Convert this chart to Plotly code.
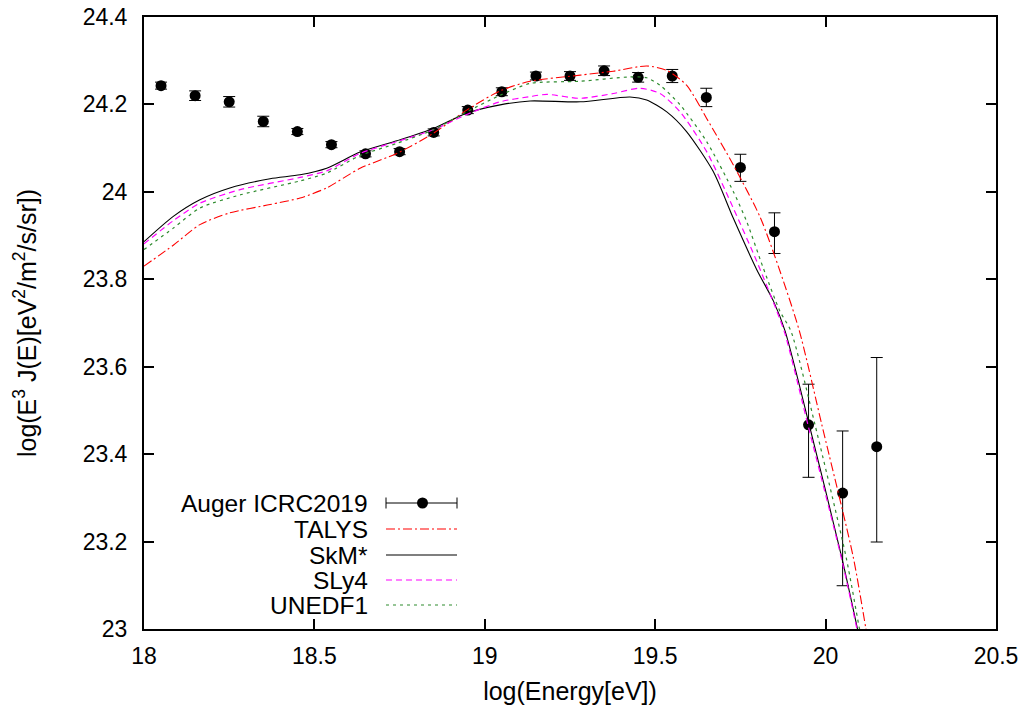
import plotly.graph_objects as go

# ---------------- data ----------------
auger_x = [18.05, 18.15, 18.25, 18.35, 18.45, 18.55, 18.65, 18.75, 18.85, 18.95, 19.05,
           19.15, 19.25, 19.35, 19.45, 19.55, 19.65, 19.75, 19.85, 19.95, 20.05, 20.15]
auger_y = [24.243, 24.220, 24.206, 24.161, 24.138, 24.108, 24.087, 24.092, 24.136, 24.187, 24.229,
           24.265, 24.265, 24.277, 24.262, 24.265, 24.216, 24.056, 23.909, 23.467, 23.311, 23.417]
auger_err_plus = [0.008, 0.011, 0.012, 0.012, 0.007, 0.007, 0.007, 0.007, 0.008, 0.008, 0.009,
                  0.009, 0.010, 0.011, 0.011, 0.015, 0.021, 0.030, 0.043, 0.093, 0.142, 0.204]
auger_err_minus = [0.008, 0.011, 0.012, 0.012, 0.007, 0.007, 0.007, 0.007, 0.008, 0.008, 0.009,
                   0.009, 0.010, 0.011, 0.011, 0.015, 0.021, 0.032, 0.050, 0.120, 0.212, 0.218]

talys_x = [18.0, 18.086, 18.164, 18.252, 18.37, 18.458, 18.536, 18.634, 18.742, 18.849, 18.947,
           19.045, 19.133, 19.28, 19.377, 19.475, 19.534, 19.592, 19.651, 19.729, 19.808, 19.866,
           19.923, 19.989, 20.081, 20.118, 20.14]
talys_y = [23.830, 23.878, 23.925, 23.952, 23.971, 23.986, 24.009, 24.054, 24.088, 24.134, 24.187,
           24.231, 24.253, 24.267, 24.276, 24.288, 24.278, 24.244, 24.168, 24.062, 23.942, 23.819,
           23.682, 23.467, 23.165, 23.002, 22.90]

skm_x = [18.0, 18.086, 18.164, 18.252, 18.37, 18.458, 18.536, 18.634, 18.742, 18.849, 18.947,
         19.045, 19.133, 19.28, 19.426, 19.475, 19.534, 19.592, 19.67, 19.729, 19.798, 19.847,
         19.881, 19.952, 20.047, 20.093, 20.12]
skm_y = [23.886, 23.944, 23.982, 24.009, 24.030, 24.039, 24.054, 24.091, 24.117, 24.145, 24.180,
         24.199, 24.208, 24.206, 24.217, 24.210, 24.183, 24.138, 24.047, 23.940, 23.822, 23.750,
         23.682, 23.467, 23.165, 23.002, 22.90]

sly4_x = [18.0, 18.086, 18.164, 18.282, 18.458, 18.536, 18.634, 18.742, 18.849, 18.947, 19.045,
          19.133, 19.182, 19.28, 19.377, 19.455, 19.514, 19.573, 19.651, 19.729, 19.798, 19.857,
          19.881, 19.952, 20.047, 20.092, 20.12]
sly4_y = [23.881, 23.934, 23.974, 24.005, 24.033, 24.048, 24.088, 24.115, 24.142, 24.177, 24.206,
          24.218, 24.223, 24.214, 24.225, 24.237, 24.225, 24.183, 24.092, 23.963, 23.841, 23.727,
          23.675, 23.455, 23.160, 23.000, 22.90]

unedf1_x = [18.0, 18.086, 18.164, 18.282, 18.458, 18.536, 18.634, 18.742, 18.849, 18.947, 19.045,
            19.133, 19.28, 19.426, 19.475, 19.514, 19.573, 19.651, 19.729, 19.768, 19.817, 19.866,
            19.898, 19.969, 20.06, 20.099, 20.125]
unedf1_y = [23.868, 23.917, 23.963, 23.993, 24.025, 24.043, 24.083, 24.111, 24.142, 24.183, 24.221,
            24.248, 24.253, 24.263, 24.261, 24.244, 24.199, 24.115, 24.001, 23.933, 23.826, 23.727,
            23.682, 23.467, 23.165, 23.002, 22.90]

x_ticks = [18, 18.5, 19, 19.5, 20, 20.5]
x_tick_labels = ["18", "18.5", "19", "19.5", "20", "20.5"]
y_ticks = [23, 23.2, 23.4, 23.6, 23.8, 24, 24.2, 24.4]
y_tick_labels = ["23", "23.2", "23.4", "23.6", "23.8", "24", "24.2", "24.4"]

legend_names = ["Auger ICRC2019", "TALYS", "SkM*", "SLy4", "UNEDF1"]

# ---------------- styles ----------------
FONT = "Liberation Sans, Arial, Helvetica, sans-serif"
FS = 23
FS_KEY = 24.5
FS_TITLE = 25
RED = "#ff0000"
MAG = "#ff00ff"
GRN = "#2e8b2e"
BLK = "#000000"
styles = {
    "TALYS": dict(color=RED, dash="9px,3px,2px,3px", width=1.1),
    "SkM*": dict(color=BLK, dash="solid", width=1.1),
    "SLy4": dict(color=MAG, dash="6px,4px", width=1.2),
    "UNEDF1": dict(color=GRN, dash="3px,4px", width=1.2),
}

fig = go.Figure()

fig.add_trace(go.Scatter(
    x=auger_x, y=auger_y, mode="markers", name=legend_names[0],
    marker=dict(color=BLK, size=11),
    error_y=dict(type="data", symmetric=False, array=auger_err_plus,
                 arrayminus=auger_err_minus, color=BLK, thickness=1, width=6),
    showlegend=False,
))

for name, xs, ys in [("TALYS", talys_x, talys_y), ("SkM*", skm_x, skm_y),
                     ("SLy4", sly4_x, sly4_y), ("UNEDF1", unedf1_x, unedf1_y)]:
    fig.add_trace(go.Scatter(
        x=xs, y=ys, mode="lines", name=name,
        line=dict(shape="spline", smoothing=0.7, **styles[name]),
        showlegend=False,
    ))

# ---------------- gnuplot-style key (bottom left) ----------------
# page pixels: plot area x 144..996, y 17..629 (the page body has an 8px margin)
PW, PH = 852.0, 612.0

def px_x(p):
    return (p - 144) / PW

def px_y(p):
    return (629 - p) / PH

rows = [503, 529, 555, 580, 605]
text_right = px_x(370)
s0, s1 = px_x(386), px_x(457)
shapes = []
annotations = []
for i, name in enumerate(legend_names):
    yy = px_y(rows[i])
    annotations.append(dict(x=text_right, y=yy, xref="paper", yref="paper",
                            text=name, showarrow=False, xanchor="right", yanchor="middle",
                            font=dict(family=FONT, size=FS_KEY, color="black")))
    if i == 0:
        shapes.append(dict(type="line", xref="paper", yref="paper", x0=s0, x1=s1, y0=yy, y1=yy,
                           line=dict(color=BLK, width=1)))
        for xc in (s0, s1):
            shapes.append(dict(type="line", xref="paper", yref="paper", x0=xc, x1=xc,
                               y0=yy - 5.5 / PH, y1=yy + 5.5 / PH, line=dict(color=BLK, width=1)))
        cx = px_x(422.5)
        shapes.append(dict(type="circle", xref="paper", yref="paper",
                           x0=cx - 5.5 / PW, x1=cx + 5.5 / PW,
                           y0=yy - 5.5 / PH, y1=yy + 5.5 / PH,
                           fillcolor=BLK, line=dict(color=BLK, width=0)))
    else:
        st = styles[name]
        shapes.append(dict(type="line", xref="paper", yref="paper", x0=s0, x1=s1, y0=yy, y1=yy,
                           line=dict(color=st["color"], dash=st["dash"], width=st["width"])))

axis_common = dict(
    showline=True, linecolor=BLK, linewidth=2, mirror="allticks",
    ticks="inside", ticklen=10, tickwidth=1.5, tickcolor=BLK,
    showgrid=False, zeroline=False, automargin=False,
    ticklabeloverflow="allow",
    tickfont=dict(family=FONT, size=FS, color="black"),
)

fig.update_layout(
    width=1013, height=697,
    margin=dict(l=136, r=25, t=9, b=76),
    paper_bgcolor="white", plot_bgcolor="white",
    font=dict(family=FONT, size=FS, color="black"),
    xaxis=dict(range=[18, 20.5], tickvals=x_ticks, ticktext=x_tick_labels,
               ticklabelstandoff=5,
               title=dict(text="log(Energy[eV])", font=dict(family=FONT, size=FS_TITLE), standoff=20),
               **axis_common),
    yaxis=dict(range=[23, 24.4], tickvals=y_ticks, ticktext=y_tick_labels,
               ticklabelstandoff=10,
               title=dict(text="log(E<sup>3</sup> J(E)[eV<sup>2</sup>/m<sup>2</sup>/s/sr])",
                          font=dict(family=FONT, size=FS_TITLE), standoff=39),
               **axis_common),
    shapes=shapes,
    annotations=annotations,
    showlegend=False,
)

fig.write_html("out.html")
